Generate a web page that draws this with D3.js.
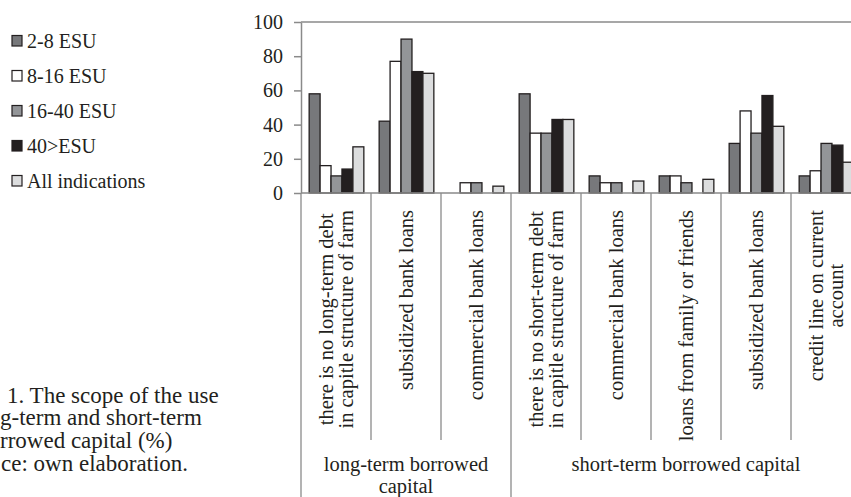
<!DOCTYPE html>
<html>
<head>
<meta charset="utf-8">
<script src="https://cdn.jsdelivr.net/npm/d3@7"></script>
</head>
<body style="margin:0">
<svg id="chart" width="851" height="497"></svg>
<script>
// ---- data ----
const categories = [
  ["there is no long-term debt", "in capitle structure of farm"],
  ["subsidized bank loans"],
  ["commercial bank loans"],
  ["there is no short-term debt", "in capitle structure of farm"],
  ["commercial bank loans"],
  ["loans from family or friends"],
  ["subsidized bank loans"],
  ["credit line on current", "account"]
];
const groupLabels = [["long-term borrowed", "capital"], ["short-term borrowed capital"]];
const groupSizes = [3, 5];
const seriesNames = ["2-8 ESU", "8-16 ESU", "16-40 ESU", "40>ESU", "All indications"];
const s_2_8   = [58, 42, 0, 58, 10, 10, 29, 10];
const s_8_16  = [16, 77, 6, 35, 6, 10, 48, 13];
const s_16_40 = [10, 90, 6, 35, 6, 6, 35, 29];
const s_40    = [14, 71, 0, 43, 0, 0, 57, 28];
const s_all   = [27, 70, 4, 43, 7, 8, 39, 18];
const yTicks = [0, 20, 40, 60, 80, 100];
const captionLines = ["1. The scope of the use", "g-term and short-term", "rrowed capital (%)", "ce: own elaboration."];

const seriesValues = [s_2_8, s_8_16, s_16_40, s_40, s_all];
const colors = ["#77787b", "#ffffff", "#939598", "#231f20", "#dcddde"];
const axisColor = "#8a8a8a";
const FONT = '"Liberation Serif"';
const textColor = "#231f20";

const svg = d3.select("#chart");

function txt(sel, size) {
  return sel.style("font-family", FONT).attr("font-size", size).attr("fill", textColor);
}

// ---- scales ----
const x = d3.scaleBand().domain(d3.range(categories.length)).range([301, 861]).padding(0);
const xs = d3.scaleBand().domain(d3.range(seriesNames.length)).range([0, x.bandwidth()])
  .paddingInner(0).paddingOuter(0.7);
const y = d3.scaleLinear().domain([0, 100]).range([193, 22]);

// ---- bars ----
const barData = [];
seriesValues.forEach((vals, s) => vals.forEach((v, c) => barData.push({s, c, v})));
svg.append("g").selectAll("rect")
  .data(barData.filter(d => d.v > 0))
  .join("rect")
  .attr("x", d => x(d.c) + xs(d.s) + 0.5)
  .attr("y", d => y(d.v))
  .attr("width", xs.bandwidth())
  .attr("height", d => y(0) - y(d.v))
  .attr("fill", d => colors[d.s])
  .attr("stroke", "#231f20")
  .attr("stroke-width", 1.3);

// ---- y axis ----
const yAxis = d3.axisLeft(y).tickValues(yTicks).tickSize(7).tickSizeOuter(0).tickPadding(11);
const gy = svg.append("g").attr("transform", "translate(301,0)").call(yAxis);
gy.attr("font-family", null).attr("font-size", null);
gy.select(".domain").attr("stroke", axisColor).attr("stroke-width", 1.5);
gy.selectAll(".tick line").attr("stroke", axisColor).attr("stroke-width", 1.5);
txt(gy.selectAll(".tick text"), 20);

// top border line at 100 and x axis line at 0
svg.append("line").attr("x1", 301).attr("x2", 861).attr("y1", y(100)).attr("y2", y(100))
  .attr("stroke", axisColor).attr("stroke-width", 1.5);
svg.append("line").attr("x1", 301).attr("x2", 861).attr("y1", y(0)).attr("y2", y(0))
  .attr("stroke", axisColor).attr("stroke-width", 1.5);

// ---- category separators ----
const groupBounds = [0];
groupSizes.forEach(n => groupBounds.push(groupBounds[groupBounds.length - 1] + n));
for (let i = 0; i <= categories.length; i++) {
  const xp = i < categories.length ? x(i) : x(categories.length - 1) + x.bandwidth();
  const isGroup = groupBounds.includes(i);
  svg.append("line").attr("x1", xp).attr("x2", xp).attr("y1", y(0)).attr("y2", isGroup ? 497 : 440)
    .attr("stroke", axisColor).attr("stroke-width", 1.3);
}

// ---- category labels (rotated) ----
const labelTop = 210;
categories.forEach((lines, c) => {
  const cx = x(c) + x.bandwidth() / 2;
  const g = svg.append("g");
  const texts = lines.map((ln, j) => {
    const off = (j - (lines.length - 1) / 2) * 20;
    return txt(g.append("text"), 20.5)
      .attr("text-anchor", "middle")
      .attr("dominant-baseline", "central")
      .attr("data-off", off)
      .text(ln);
  });
  const maxLen = d3.max(texts, t => t.node().getComputedTextLength());
  const cy = labelTop + maxLen / 2;
  texts.forEach(t => {
    const off = +t.attr("data-off");
    t.attr("transform", `translate(${cx + off},${cy}) rotate(-90)`);
  });
});

// ---- group labels ----
groupLabels.forEach((lines, gi) => {
  const start = x(groupBounds[gi]);
  const end = x(groupBounds[gi + 1] - 1) + x.bandwidth();
  const cx = (start + end) / 2;
  lines.forEach((ln, j) => {
    txt(svg.append("text"), 20.5).attr("x", cx).attr("y", 471 + j * 22)
      .attr("text-anchor", "middle").text(ln);
  });
});

// ---- legend ----
const legend = svg.append("g");
seriesNames.forEach((name, i) => {
  const cy = 41 + i * 35;
  legend.append("rect").attr("x", 12).attr("y", cy - 5.5).attr("width", 10).attr("height", 10.5)
    .attr("fill", colors[i]).attr("stroke", "#231f20").attr("stroke-width", 1.2);
  txt(legend.append("text"), 20).attr("x", 27).attr("y", cy + 6.5).text(name);
});

// ---- caption (cut at left edge) ----
const capX = [7, 0, 0, 1];
captionLines.forEach((ln, i) => {
  txt(svg.append("text"), 23).attr("x", capX[i]).attr("y", 402.7 + i * 22.6).text(ln);
});
</script>
</body>
</html>
